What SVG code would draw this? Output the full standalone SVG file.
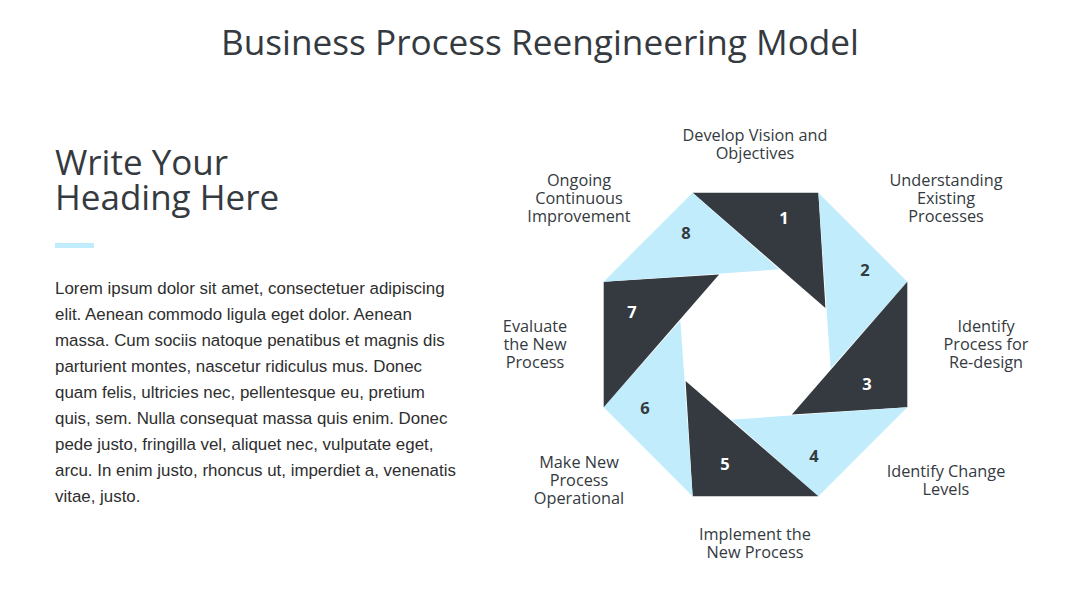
<svg xmlns="http://www.w3.org/2000/svg" width="1080" height="608" viewBox="0 0 1080 608">
<style>
.t{font-family:"Open Sans","Noto Sans","DejaVu Sans",sans-serif;fill:#343a40}
.lbl{font-size:16.3px;text-anchor:middle}
.num{font-family:"Open Sans","Noto Sans",sans-serif;font-weight:bold;font-size:16.5px;text-anchor:middle}
.dk{fill:#343a40}
.lt{fill:#c0ecfb}
.p{font-family:"Liberation Sans",Arial,sans-serif;font-size:16.9px;fill:#2e2e2e}
</style>
<rect width="1080" height="608" fill="#ffffff"/>
<text class="t" x="540" y="55" font-size="35.2" text-anchor="middle">Business Process Reengineering Model</text>
<g id="heading">
<text class="t" x="55" y="175" font-size="35">Write Your</text>
<text class="t" x="55" y="210" font-size="35">Heading Here</text>
<rect x="55" y="243" width="39" height="5" fill="#c0ecfb"/>
</g>
<g id="body">
<text class="p" x="55" y="294">Lorem ipsum dolor sit amet, consectetuer adipiscing</text>
<text class="p" x="55" y="320">elit. Aenean commodo ligula eget dolor. Aenean</text>
<text class="p" x="55" y="346">massa. Cum sociis natoque penatibus et magnis dis</text>
<text class="p" x="55" y="372">parturient montes, nascetur ridiculus mus. Donec</text>
<text class="p" x="55" y="398">quam felis, ultricies nec, pellentesque eu, pretium</text>
<text class="p" x="55" y="424">quis, sem. Nulla consequat massa quis enim. Donec</text>
<text class="p" x="55" y="450">pede justo, fringilla vel, aliquet nec, vulputate eget,</text>
<text class="p" x="55" y="476">arcu. In enim justo, rhoncus ut, imperdiet a, venenatis</text>
<text class="p" x="55" y="502">vitae, justo.</text>
</g>
<g id="step1">
<polygon class="dk" points="692.63,192.71 818.37,192.71 825.40,308.11"/>
<text class="num" x="784" y="224" fill="#ffffff">1</text>
<text class="t lbl" x="755" y="141">Develop Vision and</text>
<text class="t lbl" x="755" y="159">Objectives</text>
</g>
<g id="step2">
<polygon class="lt" points="818.37,192.71 907.29,281.63 830.65,368.20"/>
<text class="num" x="865" y="276" fill="#343a40">2</text>
<text class="t lbl" x="946" y="186">Understanding</text>
<text class="t lbl" x="946" y="204">Existing</text>
<text class="t lbl" x="946" y="222">Processes</text>
</g>
<g id="step3">
<polygon class="dk" points="907.29,281.63 907.29,407.37 791.89,414.40"/>
<text class="num" x="867" y="390" fill="#ffffff">3</text>
<text class="t lbl" x="986" y="332">Identify</text>
<text class="t lbl" x="986" y="350">Process for</text>
<text class="t lbl" x="986" y="368">Re-design</text>
</g>
<g id="step4">
<polygon class="lt" points="907.29,407.37 818.37,496.29 731.80,419.65"/>
<text class="num" x="814" y="462" fill="#343a40">4</text>
<text class="t lbl" x="946" y="477">Identify Change</text>
<text class="t lbl" x="946" y="495">Levels</text>
</g>
<g id="step5">
<polygon class="dk" points="818.37,496.29 692.63,496.29 685.60,380.89"/>
<text class="num" x="725" y="470" fill="#ffffff">5</text>
<text class="t lbl" x="755" y="540">Implement the</text>
<text class="t lbl" x="755" y="558">New Process</text>
</g>
<g id="step6">
<polygon class="lt" points="692.63,496.29 603.71,407.37 680.35,320.80"/>
<text class="num" x="645" y="414" fill="#343a40">6</text>
<text class="t lbl" x="579" y="468">Make New</text>
<text class="t lbl" x="579" y="486">Process</text>
<text class="t lbl" x="579" y="504">Operational</text>
</g>
<g id="step7">
<polygon class="dk" points="603.71,407.37 603.71,281.63 719.11,274.60"/>
<text class="num" x="632" y="318" fill="#ffffff">7</text>
<text class="t lbl" x="535" y="332">Evaluate</text>
<text class="t lbl" x="535" y="350">the New</text>
<text class="t lbl" x="535" y="368">Process</text>
</g>
<g id="step8">
<polygon class="lt" points="603.71,281.63 692.63,192.71 779.20,269.35"/>
<text class="num" x="686" y="239" fill="#343a40">8</text>
<text class="t lbl" x="579" y="186">Ongoing</text>
<text class="t lbl" x="579" y="204">Continuous</text>
<text class="t lbl" x="579" y="222">Improvement</text>
</g>
<g id="connectors"></g>
</svg>
